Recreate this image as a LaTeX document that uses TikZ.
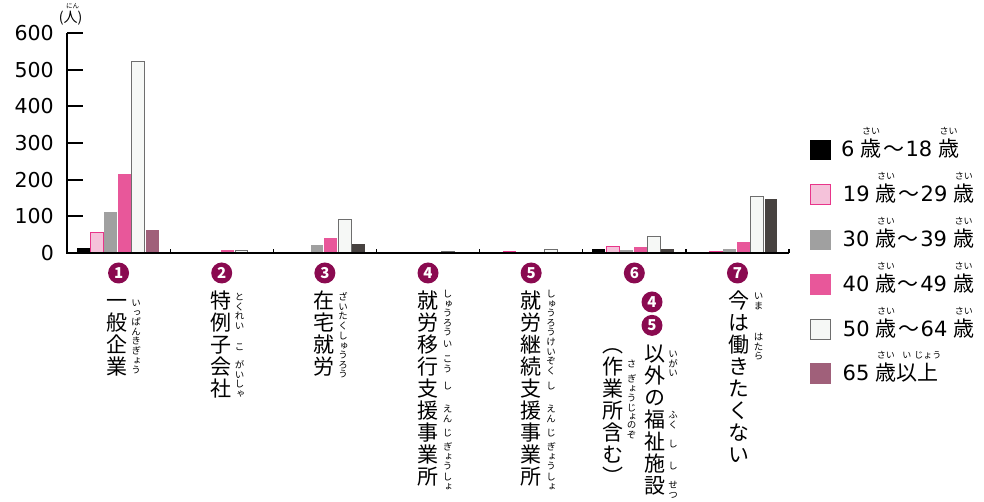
\documentclass[tikz,border=0pt]{standalone}
\usepackage{fontspec}
\setmainfont{Noto Sans CJK JP}
\newfontfamily\vfont[RawFeature=+vert]{Noto Sans CJK JP}
\newfontfamily\dg{DejaVu Sans}
\usetikzlibrary{positioning,calc}
\definecolor{plum}{HTML}{8A0A50}
\definecolor{barpink}{HTML}{E8579A}
\definecolor{barlight}{HTML}{F5C2DA}
\definecolor{barlightedge}{HTML}{E8358A}
\definecolor{bargray}{HTML}{A0A0A0}
\definecolor{barwhite}{HTML}{F6F8F6}
\definecolor{barwhiteedge}{HTML}{6E6E6E}
\definecolor{barmauve}{HTML}{A0607A}
\definecolor{bardark}{HTML}{474240}
\newcommand\emtop{\rule{0pt}{.88em}}
\newcommand\rb[2]{\ooalign{#1\cr\hidewidth\raisebox{1.05em}{\fontsize{9}{9}\selectfont #2}\hidewidth\cr}}
\newcommand\sai{\hspace{6pt}\rb{歳}{さい}}
\newcommand\kara{\hspace{1.5pt}〜\hspace{1.5pt}}
\tikzset{
    axis/.style={line width=2pt},
    b0/.style={fill=black},
    b1/.style={fill=barlight, draw=barlightedge, line width=1pt},
    b2/.style={fill=bargray},
    b3/.style={fill=barpink},
    b4/.style={fill=barwhite, draw=barwhiteedge, line width=1pt},
    b5/.style={fill=barmauve},
    b6/.style={fill=bardark},
    num/.style={circle, fill=plum, text=white, inner sep=0pt, minimum size=21pt, font=\fontsize{15}{15}\selectfont\bfseries},
    tate/.style={font=\vfont\fontsize{21}{22}\selectfont, align=center, anchor=north, inner sep=0pt},
    kana/.style={font=\vfont\fontsize{9.5}{9.6}\selectfont, align=center, anchor=north, inner sep=0pt},
    ylab/.style={anchor=east, inner sep=0pt, font=\dg\fontsize{20.5}{22}\selectfont},
    key/.style={minimum size=20.5pt, inner sep=0pt},
    keytext/.style={anchor=base west, inner sep=0pt, font=\fontsize{21}{22}\selectfont}
}
\begin{document}
\begin{tikzpicture}[x=1pt, y=1pt]
\useasboundingbox (0,0) rectangle (984,502);
% bars
\foreach \g/\c/\vals in {0/5/{13,56,112,215,523,63}, 1/6/{0,1,0,8,6,0}, 2/6/{0,0,22,41,90,25},
    3/6/{0,0,0,0,3,3}, 4/6/{0,3,2,3,10,0}, 5/6/{10,18,7,16,45,11}, 6/6/{0,3,10,30,153,147}}{
    \foreach \v [count=\i from 0] in \vals {
        \ifnum\i=5 \edef\k{\c}\else\edef\k{\i}\fi
        \ifnum\v>0
            \path[style/.expanded=b\k] ({76.7+103.15*\g+13.8*\i},249) rectangle ++(12.8,{\v*0.3667});
        \fi
    }
}
% axes
\coordinate (O) at (67,249);
\coordinate (top) at (67,469);
\coordinate (xend) at (789,249);
\draw[axis] (top) -- (O) -- (xend);
\foreach \k/\t in {0/0,1/100,2/200,3/300,4/400,5/500,6/600}{
    \draw[axis] (67,{249+36.67*\k}) -- ++(16,0);
    \node[ylab] (y\k) at (54,{249+36.67*\k}) {\t};
}
\foreach \g in {1,...,7}
    \draw[line width=1.2pt] ({67+103.15*\g},249) -- ++(0,4);
\node[inner sep=0pt, font=\fontsize{14}{14}\selectfont] (unit) at (70.5,483.5) {(人)};
\node[inner sep=0pt, font=\fontsize{6.5}{7}\selectfont] (unitkana) at (72.5,496) {にん};
% group numbers
\foreach \g in {1,...,7}
    \node[num] (n\g) at ({67+103.15*(\g-0.5)},229) {\g};
\node[num] (c4) at (652,200) {4};
\node[num, below=2pt of c4] (c5) {5};
% labels
\node[tate] (L1) at (117,212) {\emtop 一\\般\\企\\業};
\node[kana] (R1) at (136,204) {\emtop い\\っ\\ぱ\\ん\\き\\ぎ\\ょ\\う};
\node[tate] (L2) at (220.5,212) {\emtop 特\\例\\子\\会\\社};
\node[kana] (R2a) at (239.5,210) {\emtop と\\く\\れ\\い};
\node[kana] (R2b) at (239.5,160) {\emtop こ};
\node[kana] (R2c) at (239.5,142) {\emtop が\\い\\し\\ゃ};
\node[tate] (L3) at (324,212) {\emtop 在\\宅\\就\\労};
\node[kana] (R3a) at (343,210) {\emtop ざ\\い\\た\\く};
\node[kana] (R3b) at (343,171) {\emtop し\\ゅ\\う\\ろ\\う};
\node[tate] (L4) at (427.5,212) {\emtop 就\\労\\移\\行\\支\\援\\事\\業\\所};
\node[kana] (R4a) at (447.5,213) {\emtop し\\ゅ\\う\\ろ\\う};
\node[kana] (R4b) at (447.5,163) {\emtop い};
\node[kana] (R4c) at (447.5,148) {\emtop こ\\う};
\node[kana] (R4d) at (447.5,121) {\emtop し};
\node[kana] (R4e) at (447.5,98) {\emtop え\\ん};
\node[kana] (R4f) at (447.5,74) {\emtop じ};
\node[kana] (R4g) at (447.5,60) {\emtop ぎ\\ょ\\う};
\node[kana] (R4h) at (447.5,30) {\emtop し\\ょ};
\node[tate] (L5) at (531,212) {\emtop 就\\労\\継\\続\\支\\援\\事\\業\\所};
\node[kana] (R5a) at (551,213) {\emtop し\\ゅ\\う\\ろ\\う};
\node[kana] (R5b) at (551,165) {\emtop け\\い\\ぞ\\く};
\node[kana] (R5c) at (551,121) {\emtop し};
\node[kana] (R5d) at (551,98) {\emtop え\\ん};
\node[kana] (R5e) at (551,74) {\emtop じ};
\node[kana] (R5f) at (551,60) {\emtop ぎ\\ょ\\う};
\node[kana] (R5g) at (551,30) {\emtop し\\ょ};
\node[tate] (L6) at (655,159) {\emtop 以\\外\\の\\福\\祉\\施\\設};
\node[kana] (R6a) at (673,153) {\emtop い\\が\\い};
\node[kana] (R6b) at (673,92) {\emtop ふ\\く};
\node[kana] (R6c) at (673,63) {\emtop し};
\node[kana] (R6d) at (673,41) {\emtop し};
\node[kana] (R6e) at (673,22) {\emtop せ\\つ};
\node[tate] (L6p) at (613,168) {\emtop （\\作\\業\\所\\含\\む\\）};
\node[kana] (R6f) at (631.5,143) {\emtop さ};
\node[kana] (R6g) at (631.5,128) {\emtop ぎ\\ょ\\う\\じ\\ょ};
\node[kana] (R6h) at (631.5,82) {\emtop の\\ぞ};
\node[tate] (L7) at (739,212) {\emtop 今\\は\\働\\き\\た\\く\\な\\い};
\node[kana] (R7a) at (758.5,211) {\emtop い\\ま};
\node[kana] (R7b) at (758.5,170) {\emtop は\\た\\ら};
% legend
\node[key, b0] (k1) at (820.5,352) {};
\node[key, b1] (k2) at (820.5,307.5) {};
\node[key, b2] (k3) at (820.5,262) {};
\node[key, b3] (k4) at (820.5,217.5) {};
\node[key, b4] (k5) at (820.5,172.3) {};
\node[key, b5] (k6) at (820.5,128.5) {};
\node[keytext] (t1) at ($(k1.east)+(10,-6.9)$) {{\dg 6}\sai\kara{\dg 18}\sai};
\node[keytext] (t2) at ($(k2.east)+(11.5,-6.9)$) {{\dg 19}\sai\kara{\dg 29}\sai};
\node[keytext] (t3) at ($(k3.east)+(11.5,-6.9)$) {{\dg 30}\sai\kara{\dg 39}\sai};
\node[keytext] (t4) at ($(k4.east)+(11.5,-6.9)$) {{\dg 40}\sai\kara{\dg 49}\sai};
\node[keytext] (t5) at ($(k5.east)+(11.5,-6.9)$) {{\dg 50}\sai\kara{\dg 64}\sai};
\node[keytext] (t6) at ($(k6.east)+(11.5,-6.9)$) {{\dg 65}\sai\rb{以}{い}\rb{上}{じょう}};
\end{tikzpicture}
\end{document}
